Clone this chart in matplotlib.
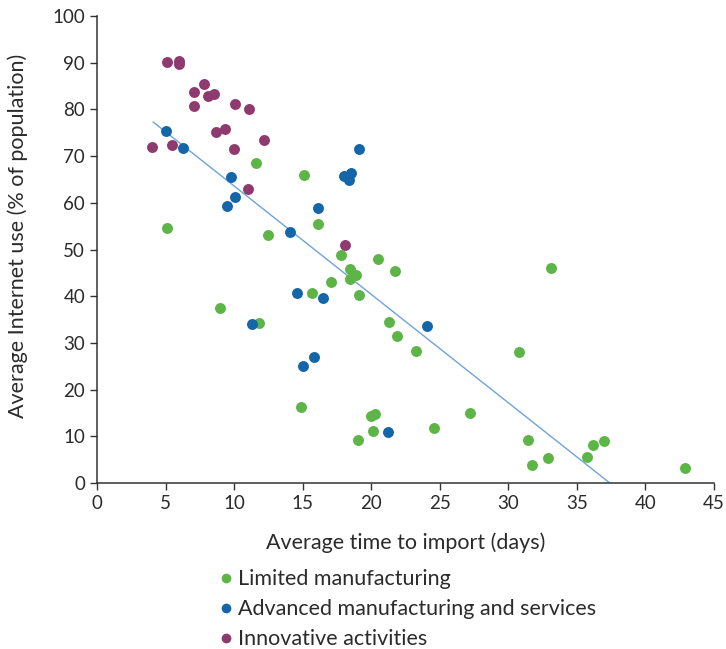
import matplotlib
matplotlib.use('Agg')
import matplotlib.pyplot as plt
from matplotlib.lines import Line2D

# Limited manufacturing
limited_x = [11.6, 15.1, 5.1, 12.5, 16.1, 17.8, 20.5, 18.45, 18.9, 18.45, 21.7, 17.1,
             15.7, 19.1, 9.0, 11.8, 21.3, 21.9, 23.3, 14.9, 20.0, 20.3, 20.1, 19.0,
             24.6, 27.2, 33.1, 30.8, 31.4, 31.7, 32.9, 35.7, 36.2, 37.0, 42.9]
limited_y = [68.5, 66.0, 54.6, 53.1, 55.5, 48.8, 48.0, 45.8, 44.5, 43.7, 45.4, 43.0,
             40.7, 40.3, 37.5, 34.3, 34.5, 31.5, 28.3, 16.3, 14.4, 14.8, 11.1, 9.2,
             11.8, 15.0, 46.0, 28.0, 9.2, 3.9, 5.4, 5.6, 8.1, 9.0, 3.3]

# Advanced manufacturing and services
advanced_x = [5.0, 6.3, 9.8, 10.1, 9.5, 14.1, 16.1, 18.0, 18.5, 18.4, 19.1, 14.6,
              16.5, 11.3, 24.1, 15.8, 15.0, 21.2]
advanced_y = [75.4, 71.7, 65.5, 61.3, 59.3, 53.7, 58.9, 65.7, 66.4, 64.9, 71.5, 40.7,
              39.6, 34.0, 33.6, 27.0, 25.1, 10.9]

# Innovative activities
innov_x = [5.1, 6.0, 6.0, 7.8, 7.1, 8.1, 8.5, 7.1, 10.1, 11.1, 4.0, 5.5, 8.7, 9.3,
           10.0, 12.2, 11.0, 18.1]
innov_y = [90.1, 90.3, 89.8, 85.4, 83.7, 82.9, 83.3, 80.7, 81.2, 80.1, 71.9, 72.4,
           75.2, 75.8, 71.5, 73.4, 63.0, 51.0]

# trend line end points
trend_x = [4.1, 37.4]
trend_y = [77.3, 0.0]

green = '#5db548'
blue = '#1565a9'
purple = '#8e3a6f'
line_col = '#6fa3dc'
axis_col = '#333333'
text_col = '#2b2b2b'

plt.rcParams['font.family'] = ['Lato', 'DejaVu Sans']

fig = plt.figure(figsize=(7.26, 6.49), dpi=100)
ax = fig.add_axes([0.1336, 0.2558, 0.8499, 0.7195])

ax.plot(trend_x, trend_y, color=line_col, lw=1.0, zorder=2)
ax.scatter(limited_x, limited_y, s=62, color=green, lw=0, zorder=3)
ax.scatter(advanced_x, advanced_y, s=62, color=blue, lw=0, zorder=3)
ax.scatter(innov_x, innov_y, s=62, color=purple, lw=0, zorder=3)

ax.set_xlim(0, 45)
ax.set_ylim(0, 100)
ax.set_xticks(range(0, 46, 5))
ax.set_yticks(range(0, 101, 10))
for s in ['top', 'right']:
    ax.spines[s].set_visible(False)
for s in ['left', 'bottom']:
    ax.spines[s].set_color(axis_col)
    ax.spines[s].set_linewidth(1.1)
ax.tick_params(colors=axis_col, labelcolor=text_col, labelsize=13.5, length=5, width=1.0)

ax.set_xlabel('Average time to import (days)', fontsize=15.5, color=text_col)
ax.xaxis.set_label_coords(0.5, -0.105)
ax.set_ylabel('Average Internet use (% of population)', fontsize=15.5, color=text_col)
ax.yaxis.set_label_coords(-0.112, 0.53)

handles = [Line2D([], [], ls='', marker='o', ms=7, color=green, mec='none'),
           Line2D([], [], ls='', marker='o', ms=7, color=blue, mec='none'),
           Line2D([], [], ls='', marker='o', ms=7, color=purple, mec='none')]
labels = ['Limited manufacturing', 'Advanced manufacturing and services', 'Innovative activities']
leg = fig.legend(handles, labels, loc='upper left', bbox_to_anchor=(0.302, 0.123),
                 frameon=False, fontsize=15.5, handlelength=0.6, handletextpad=0.25,
                 labelspacing=0.47, borderaxespad=0, borderpad=0)
for t in leg.get_texts():
    t.set_color(text_col)

fig.savefig('out.png', dpi=100)
